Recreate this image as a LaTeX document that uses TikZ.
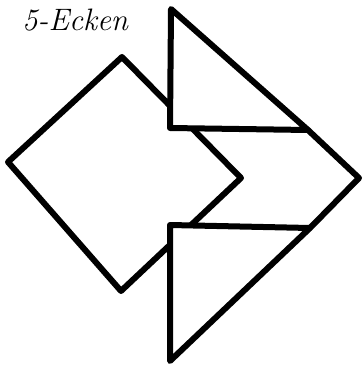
\documentclass[tikz,border=0pt]{standalone}
\begin{document}
\begin{tikzpicture}[x=1pt,y=-1pt,
  piece/.style={draw=black,line width=6pt,line join=round,fill=white},
  edge/.style={draw=black,line width=6pt,line join=round,line cap=round}]
\useasboundingbox (0,0) rectangle (363,366);
% square (rotated)
\coordinate (sqT) at (122,57);
\coordinate (sqL) at (8,162);
\coordinate (sqB) at (121,291);
\coordinate (sqR) at (241,178);
\draw[piece] (sqT) -- (sqR) -- (sqB) -- (sqL) -- cycle;
% upper triangle
\coordinate (utA) at (171,9);
\coordinate (utB) at (170,128);
\coordinate (utC) at (308,130);
\draw[piece] (utA) -- (utB) -- (utC) -- cycle;
% lower triangle
\coordinate (ltA) at (170,225);
\coordinate (ltB) at (310,228);
\coordinate (ltC) at (170,361);
\draw[piece] (ltA) -- (ltB) -- (ltC) -- cycle;
% right tip
\coordinate (tip) at (359,178);
\draw[edge] (utC) -- (tip) -- (ltB);
% label
\node[font=\fontsize{31}{34}\selectfont\itshape, anchor=west, inner sep=0pt] (lbl) at (22,20) {5-Ecken};
\end{tikzpicture}
\end{document}
